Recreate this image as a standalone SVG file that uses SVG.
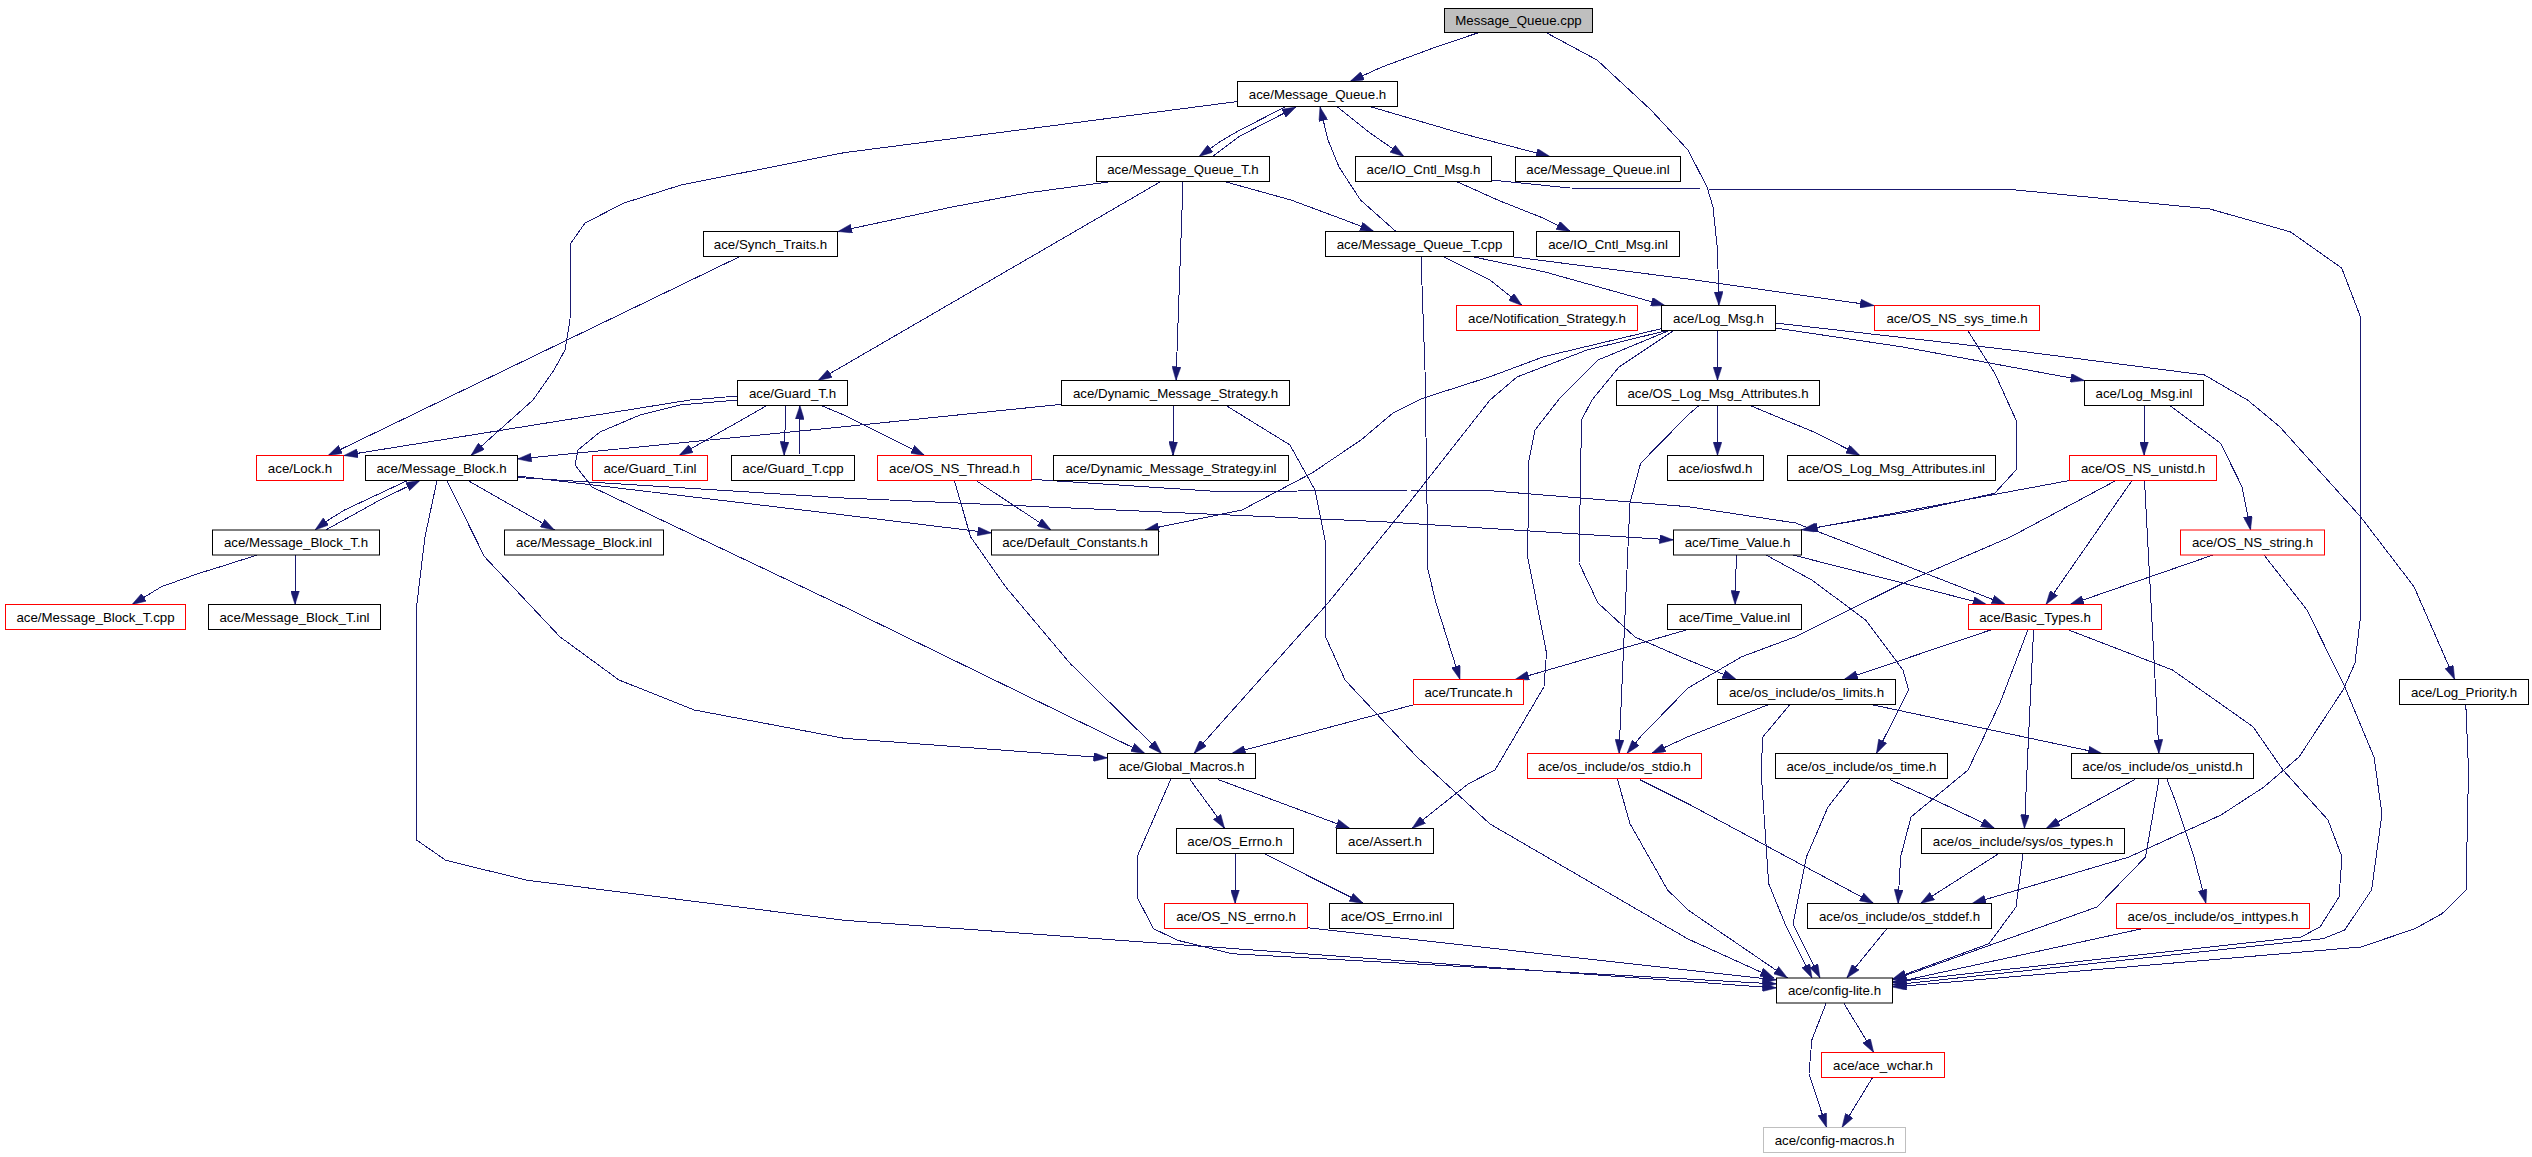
<svg xmlns="http://www.w3.org/2000/svg" width="2532" height="1157" viewBox="0 0 2532 1157">
<style>
.n rect{fill:#fff;stroke:#000;stroke-width:1}
.n.r rect{stroke:#f00}
.n.g rect{stroke:#bfbfbf}
.n.root rect{fill:#bfbfbf}
.n text{font-family:"Liberation Sans",Arial,sans-serif;font-size:13.3px;text-anchor:middle;fill:#000}
#edges path{fill:none;stroke:#191970;stroke-width:1;stroke-linejoin:round;marker-end:url(#arr);shape-rendering:crispEdges}
</style>
<defs>
<marker id="arr" viewBox="0 0 14 9" refX="14" refY="4.5" markerWidth="14" markerHeight="9" markerUnits="userSpaceOnUse" orient="auto">
<path d="M0,0 L14,4.5 L0,9 z" fill="#191970" stroke="#191970" stroke-width="0.5"/>
</marker>
</defs>
<rect x="0" y="0" width="2532" height="1157" fill="#fff"/>
<g id="edges">
<path d="M1479,32.5 L1436,47 L1382,67 L1350,81.5"/>
<path d="M1546,32.5 L1597,60 L1651,110 L1688,150 L1707,187 L1713,207 L1717.5,250 L1719,305.5"/>
<path d="M1285,107 L1240,130 L1221,141 L1199,156.5"/>
<path d="M1212.5,156.5 L1240,136 L1296,107"/>
<path d="M1337.5,107 L1370,133 L1404,156.5"/>
<path d="M1371.5,107 L1460,133 L1550,156.5"/>
<path d="M1237.5,101.5 L1050,126 L844,152.7 L681,185 L624,203 L585,223 L571,243 L570,320 L565,350 L554,370 L533,400 L471,455.5"/>
<path d="M1108,182 L1027,193 L952,207 L838,231.5"/>
<path d="M1160,182 L818,380.5"/>
<path d="M1183,182 L1176,380.5"/>
<path d="M1226,182 L1291,200 L1350,222 L1374,231.5"/>
<path d="M1396,231.5 L1360.5,200 L1339,167 L1328,140 L1320,107"/>
<path d="M1421,257 L1425,370 L1428,570 L1436,603 L1460,679.5"/>
<path d="M1444,257 L1490,280 L1522,305.5"/>
<path d="M1474,257 L1545,272 L1665,305.5"/>
<path d="M1514,257 L1688,279 L1874,305.5"/>
<path d="M1457.5,182 L1500,201 L1543,218 L1570.5,231.5"/>
<path d="M1491.5,180 L1570,188 L1700,189 L2011,189.5 L2210,209 L2290.6,232 L2341.7,268 L2360.5,317 L2360.5,617 L2355,663 L2343,690 L2299,757 L2264,787 L2221,815 L2129,857 L1972,903.5"/>
<path d="M1717.5,331 L1717.5,380.5"/>
<path d="M1775.5,328 L1903,347 L2084.5,380.5"/>
<path d="M1775.5,323 L2011,350 L2204.5,375 L2247.5,400 L2279.7,426.7 L2360.5,516.7 L2414,586.7 L2454.7,679.5"/>
<path d="M1662,328.5 L1543.8,356.7 L1490,376.7 L1422.7,398.3 L1393,413 L1361,440 L1312,473 L1242,510 L1145,530"/>
<path d="M1665,331 L1587,350 L1517,377 L1490,400 L1409,503 L1328,603 L1194,753.5"/>
<path d="M1668,331 L1598,360 L1560,398 L1535,430 L1529,460 L1527.6,556.7 L1546.5,653 L1544,686.7 L1495,770 L1468,784 L1412,828.5"/>
<path d="M1673,331 L1619,367 L1592,400 L1581.5,420 L1579,563 L1598,603 L1635,637 L1688,660 L1736.4,679.5"/>
<path d="M740,256.5 L328,455.5"/>
<path d="M737.5,396 L690,400 L344,455.5"/>
<path d="M737.5,400 L680,405 L640,415 L600,432 L578,450 L575,465 L592,487 L844,606.7 L1145,753.5"/>
<path d="M767,405.5 L679,455.5"/>
<path d="M786,405.5 L784,455.5"/>
<path d="M799,455.5 L800,405.5"/>
<path d="M821,405.5 L844,415 L924.7,455.5"/>
<path d="M1061.5,404.3 L844,426.7 L517.5,459"/>
<path d="M1173.5,405.5 L1173,455.5"/>
<path d="M1226,405.5 L1290,445 L1315,490 L1325,540 L1325.5,636.7 L1345,680 L1417,757 L1490,824 L1688,939 L1774,978"/>
<path d="M407.5,480.5 L344.5,510 L325.7,521.7 L315,530"/>
<path d="M325.7,530 L380,500 L420,480.5"/>
<path d="M468,480.5 L554.4,530"/>
<path d="M517.5,476 L844,515 L991.5,533"/>
<path d="M517.5,477.5 L844,498 L1382,521.7 L1673.5,540"/>
<path d="M1031.5,479.3 L1220.8,491.7 L1409,490 L1490,490.7 L1688,506.7 L1795.6,523 L1865.6,550 L2005.6,604.5"/>
<path d="M446.8,480.5 L484.5,556.7 L559.8,636.7 L619,680 L694.4,710 L844,738.3 L1107.5,758"/>
<path d="M437,480.5 L425,536.7 L417,603 L416.6,840 L445.7,860.3 L527.5,880.3 L844,920.3 L1776.5,988"/>
<path d="M257,555 L226,565 L199,573.3 L161.5,586.7 L132,604.5"/>
<path d="M295,555 L295,604.5"/>
<path d="M975.9,480.5 L1051,530"/>
<path d="M954.4,480.5 L970.5,536.7 L1005.5,586.7 L1070,663.3 L1161.6,753.5"/>
<path d="M1414.6,704.5 L1231.6,753.5"/>
<path d="M1688,629.5 L1515,679.5"/>
<path d="M1968,331 L1994.8,373.3 L2016,420 L2016,470 L1994.7,493.3 L1919.5,510 L1801.5,530"/>
<path d="M2069.5,480.5 L1803.7,530"/>
<path d="M2132,480.5 L2046,604.5"/>
<path d="M2144.5,480.5 L2159,753.5"/>
<path d="M2116,480.5 L2011,536.7 L1903,583.3 L1795.6,636.7 L1741.8,656.7 L1688,688 L1640.6,736.7 L1627,753.5"/>
<path d="M2144,405.5 L2144,455.5"/>
<path d="M2169.7,405.5 L2220.6,443.3 L2242,486.7 L2250.5,530"/>
<path d="M2213,555 L2070,604.5"/>
<path d="M2264,555 L2307,610 L2344.7,686.7 L2374,757 L2382,813.7 L2371.6,890 L2344.7,930 L2323,938.7 L1892.5,985"/>
<path d="M1717.5,405.5 L1717.5,455.5"/>
<path d="M1750,405.5 L1817,433.3 L1860,455.5"/>
<path d="M1699,405.5 L1688,415 L1640.6,463.3 L1629.9,503.3 L1619,753.5"/>
<path d="M1736.4,555 L1735,604.5"/>
<path d="M1793,555 L1986.7,604.5"/>
<path d="M1766,555 L1811.8,580 L1865.6,620 L1903,670 L1908.7,690 L1876.4,753.5"/>
<path d="M1992,629.5 L1844,679.5"/>
<path d="M2033.6,629.5 L2027,770 L2024.4,828.5"/>
<path d="M2028,629.5 L2000,703 L1968,770 L1911,817 L1900.6,857 L1898,903.5"/>
<path d="M2067.5,629.5 L2172.5,670 L2253,726.7 L2283,770 L2328,820 L2342,857 L2339,897 L2320,927 L2301,937 L1892.5,982"/>
<path d="M1871,704.5 L2102,753.5"/>
<path d="M1768.7,704.5 L1688,736.7 L1651.5,753.5"/>
<path d="M1790,704.5 L1763,736.7 L1761,770 L1768.7,883.7 L1785,923.7 L1812,978"/>
<path d="M2465.8,704.5 L2468.5,770 L2466,890 L2442,913.7 L2415,928.7 L2361,947 L1892.5,987"/>
<path d="M1889.8,779.5 L1935.6,800.3 L1994.8,828.5"/>
<path d="M1849.5,779.5 L1828,807 L1806.4,857 L1793,923.7 L1820,978"/>
<path d="M2134.8,779.5 L2046,828.5"/>
<path d="M2167,779.5 L2175,800 L2194,857 L2206,903.5"/>
<path d="M2159,779.5 L2145.5,857 L2097,907 L1892.5,980"/>
<path d="M1999,853.5 L1920.5,903.5"/>
<path d="M2023,853.5 L2016,907 L1989,943.7 L1892.5,979"/>
<path d="M1639.6,779.5 L1688,803.7 L1873.7,903.5"/>
<path d="M1617.5,779.5 L1630,823.7 L1667.6,890 L1688,910 L1787.5,978"/>
<path d="M1887,928.5 L1846.8,978"/>
<path d="M2143,928.5 L1892.5,983"/>
<path d="M1844,1003.5 L1873.7,1052.5"/>
<path d="M1826,1003.5 L1811.8,1040 L1809,1073.7 L1826.6,1127.5"/>
<path d="M1872.6,1077.5 L1842,1127.5"/>
<path d="M1190,779.5 L1215,813.7 L1224.6,828.5"/>
<path d="M1218,779.5 L1350,828.5"/>
<path d="M1170.7,779.5 L1137,857 L1137,897 L1153.5,928.7 L1177.7,940.3 L1231.6,953.7 L1776.5,984"/>
<path d="M1235,853.5 L1235,903.5"/>
<path d="M1263.7,853.5 L1363.5,903.5"/>
<path d="M1307.5,927.7 L1776.5,980"/>
</g>
<g id="n1" class="n root"><rect x="1444.5" y="8.5" width="148" height="24"/><text x="1518.5" y="25">Message_Queue.cpp</text></g>
<g id="n2" class="n"><rect x="1237.5" y="81.5" width="160" height="25"/><text x="1317.5" y="98.5">ace/Message_Queue.h</text></g>
<g id="n3" class="n"><rect x="1096.5" y="156.5" width="173" height="25"/><text x="1183" y="173.5">ace/Message_Queue_T.h</text></g>
<g id="n4" class="n"><rect x="1355.5" y="156.5" width="136" height="25"/><text x="1423.5" y="173.5">ace/IO_Cntl_Msg.h</text></g>
<g id="n5" class="n"><rect x="1515.5" y="156.5" width="165" height="25"/><text x="1598" y="173.5">ace/Message_Queue.inl</text></g>
<g id="n6" class="n"><rect x="703.5" y="231.5" width="134" height="25"/><text x="770.5" y="248.5">ace/Synch_Traits.h</text></g>
<g id="n7" class="n"><rect x="1325.5" y="231.5" width="188" height="25"/><text x="1419.5" y="248.5">ace/Message_Queue_T.cpp</text></g>
<g id="n8" class="n"><rect x="1536.5" y="231.5" width="143" height="25"/><text x="1608" y="248.5">ace/IO_Cntl_Msg.inl</text></g>
<g id="n9" class="n r"><rect x="1456.5" y="305.5" width="181" height="25"/><text x="1547" y="322.5">ace/Notification_Strategy.h</text></g>
<g id="n10" class="n"><rect x="1661.5" y="305.5" width="114" height="25"/><text x="1718.5" y="322.5">ace/Log_Msg.h</text></g>
<g id="n11" class="n r"><rect x="1874.5" y="305.5" width="165" height="25"/><text x="1957" y="322.5">ace/OS_NS_sys_time.h</text></g>
<g id="n12" class="n"><rect x="737.5" y="380.5" width="110" height="25"/><text x="792.5" y="397.5">ace/Guard_T.h</text></g>
<g id="n13" class="n"><rect x="1061.5" y="380.5" width="228" height="25"/><text x="1175.5" y="397.5">ace/Dynamic_Message_Strategy.h</text></g>
<g id="n14" class="n"><rect x="1616.5" y="380.5" width="203" height="25"/><text x="1718" y="397.5">ace/OS_Log_Msg_Attributes.h</text></g>
<g id="n15" class="n"><rect x="2084.5" y="380.5" width="119" height="25"/><text x="2144" y="397.5">ace/Log_Msg.inl</text></g>
<g id="n16" class="n r"><rect x="256.5" y="455.5" width="87" height="25"/><text x="300" y="472.5">ace/Lock.h</text></g>
<g id="n17" class="n"><rect x="365.5" y="455.5" width="152" height="25"/><text x="441.5" y="472.5">ace/Message_Block.h</text></g>
<g id="n18" class="n r"><rect x="592.5" y="455.5" width="115" height="25"/><text x="650" y="472.5">ace/Guard_T.inl</text></g>
<g id="n19" class="n"><rect x="731.5" y="455.5" width="123" height="25"/><text x="793" y="472.5">ace/Guard_T.cpp</text></g>
<g id="n20" class="n r"><rect x="877.5" y="455.5" width="154" height="25"/><text x="954.5" y="472.5">ace/OS_NS_Thread.h</text></g>
<g id="n21" class="n"><rect x="1053.5" y="455.5" width="235" height="25"/><text x="1171" y="472.5">ace/Dynamic_Message_Strategy.inl</text></g>
<g id="n22" class="n"><rect x="1667.5" y="455.5" width="96" height="25"/><text x="1715.5" y="472.5">ace/iosfwd.h</text></g>
<g id="n23" class="n"><rect x="1787.5" y="455.5" width="208" height="25"/><text x="1891.5" y="472.5">ace/OS_Log_Msg_Attributes.inl</text></g>
<g id="n24" class="n r"><rect x="2069.5" y="455.5" width="147" height="25"/><text x="2143" y="472.5">ace/OS_NS_unistd.h</text></g>
<g id="n25" class="n"><rect x="212.5" y="530" width="167" height="25"/><text x="296" y="547">ace/Message_Block_T.h</text></g>
<g id="n26" class="n"><rect x="504.5" y="530" width="159" height="25"/><text x="584" y="547">ace/Message_Block.inl</text></g>
<g id="n27" class="n"><rect x="991.5" y="530" width="167" height="25"/><text x="1075" y="547">ace/Default_Constants.h</text></g>
<g id="n28" class="n"><rect x="1673.5" y="530" width="128" height="25"/><text x="1737.5" y="547">ace/Time_Value.h</text></g>
<g id="n29" class="n r"><rect x="2180.5" y="530" width="144" height="25"/><text x="2252.5" y="547">ace/OS_NS_string.h</text></g>
<g id="n30" class="n r"><rect x="5.5" y="604.5" width="180" height="25"/><text x="95.5" y="621.5">ace/Message_Block_T.cpp</text></g>
<g id="n31" class="n"><rect x="208.5" y="604.5" width="172" height="25"/><text x="294.5" y="621.5">ace/Message_Block_T.inl</text></g>
<g id="n32" class="n"><rect x="1667.5" y="604.5" width="134" height="25"/><text x="1734.5" y="621.5">ace/Time_Value.inl</text></g>
<g id="n33" class="n r"><rect x="1968.5" y="604.5" width="133" height="25"/><text x="2035" y="621.5">ace/Basic_Types.h</text></g>
<g id="n34" class="n r"><rect x="1413.5" y="679.5" width="110" height="25"/><text x="1468.5" y="696.5">ace/Truncate.h</text></g>
<g id="n35" class="n"><rect x="1717.5" y="679.5" width="178" height="25"/><text x="1806.5" y="696.5">ace/os_include/os_limits.h</text></g>
<g id="n36" class="n"><rect x="2399.5" y="679.5" width="129" height="25"/><text x="2464" y="696.5">ace/Log_Priority.h</text></g>
<g id="n37" class="n"><rect x="1107.5" y="753.5" width="148" height="25"/><text x="1181.5" y="770.5">ace/Global_Macros.h</text></g>
<g id="n38" class="n r"><rect x="1527.5" y="753.5" width="174" height="25"/><text x="1614.5" y="770.5">ace/os_include/os_stdio.h</text></g>
<g id="n39" class="n"><rect x="1775.5" y="753.5" width="172" height="25"/><text x="1861.5" y="770.5">ace/os_include/os_time.h</text></g>
<g id="n40" class="n"><rect x="2071.5" y="753.5" width="182" height="25"/><text x="2162.5" y="770.5">ace/os_include/os_unistd.h</text></g>
<g id="n41" class="n"><rect x="1176.5" y="828.5" width="117" height="25"/><text x="1235" y="845.5">ace/OS_Errno.h</text></g>
<g id="n42" class="n"><rect x="1336.5" y="828.5" width="97" height="25"/><text x="1385" y="845.5">ace/Assert.h</text></g>
<g id="n43" class="n"><rect x="1921.5" y="828.5" width="203" height="25"/><text x="2023" y="845.5">ace/os_include/sys/os_types.h</text></g>
<g id="n44" class="n r"><rect x="1164.5" y="903.5" width="143" height="25"/><text x="1236" y="920.5">ace/OS_NS_errno.h</text></g>
<g id="n45" class="n"><rect x="1329.5" y="903.5" width="124" height="25"/><text x="1391.5" y="920.5">ace/OS_Errno.inl</text></g>
<g id="n46" class="n"><rect x="1807.5" y="903.5" width="184" height="25"/><text x="1899.5" y="920.5">ace/os_include/os_stddef.h</text></g>
<g id="n47" class="n r"><rect x="2116.5" y="903.5" width="193" height="25"/><text x="2213" y="920.5">ace/os_include/os_inttypes.h</text></g>
<g id="n48" class="n"><rect x="1776.5" y="978" width="116" height="25"/><text x="1834.5" y="995">ace/config-lite.h</text></g>
<g id="n49" class="n r"><rect x="1821.5" y="1052.5" width="123" height="25"/><text x="1883" y="1069.5">ace/ace_wchar.h</text></g>
<g id="n50" class="n g"><rect x="1763.5" y="1127.5" width="142" height="25"/><text x="1834.5" y="1144.5">ace/config-macros.h</text></g>
</svg>
